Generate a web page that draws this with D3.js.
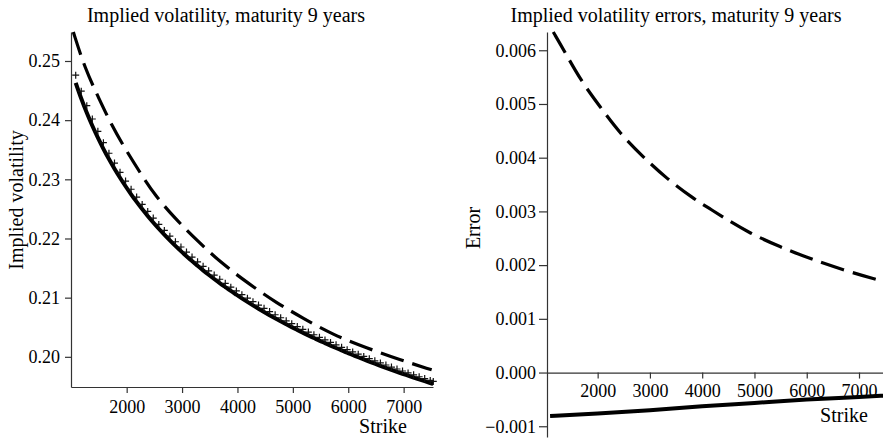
<!DOCTYPE html>
<html><head><meta charset="utf-8">
<script src="https://cdn.jsdelivr.net/npm/d3@7"></script>
<style>
html,body{margin:0;padding:0;background:#fff;}
svg{display:block;}
svg text{font-family:"Liberation Serif","Times New Roman",serif;}
</style></head><body>
<svg id="chart" width="883" height="441"></svg>
<script>
// ---- data ----
const strikes = [1080,1180,1280,1380,1480,1580,1680,1780,1880,1980,2080,2180,2280,2380,2480,2580,2680,2780,2880,2980,3080,3180,3280,3380,3480,3580,3680,3780,3880,3980,4080,4180,4280,4380,4480,4580,4680,4780,4880,4980,5080,5180,5280,5380,5480,5580,5680,5780,5880,5980,6080,6180,6280,6380,6480,6580,6680,6780,6880,6980,7080,7180,7280,7380,7480,7535];
const solidVol = [0.24630,0.24365,0.24125,0.23906,0.23704,0.23516,0.23342,0.23179,0.23027,0.22883,
0.22747,0.22619,0.22497,0.22381,0.22271,0.22165,0.22065,0.21968,0.21875,0.21786,
0.21701,0.21618,0.21539,0.21462,0.21388,0.21316,0.21246,0.21179,0.21113,0.21050,
0.20988,0.20928,0.20870,0.20813,0.20758,0.20704,0.20652,0.20601,0.20551,0.20502,
0.20455,0.20408,0.20362,0.20318,0.20274,0.20232,0.20190,0.20149,0.20109,0.20069,
0.20031,0.19993,0.19956,0.19920,0.19884,0.19849,0.19814,0.19780,0.19747,0.19714,
0.19682,0.19650,0.19619,0.19588,0.19558,0.19542];
const plusVol = [0.24760,0.24490,0.24245,0.24020,0.23812,0.23620,0.23441,0.23274,0.23118,0.22970,
0.22832,0.22700,0.22576,0.22458,0.22345,0.22237,0.22136,0.22039,0.21945,0.21856,
0.21770,0.21686,0.21606,0.21529,0.21454,0.21382,0.21311,0.21243,0.21178,0.21114,
0.21051,0.20991,0.20932,0.20875,0.20819,0.20764,0.20711,0.20660,0.20609,0.20560,
0.20512,0.20465,0.20418,0.20373,0.20329,0.20286,0.20243,0.20202,0.20161,0.20121,
0.20082,0.20044,0.20006,0.19969,0.19933,0.19897,0.19862,0.19827,0.19794,0.19760,
0.19728,0.19695,0.19663,0.19632,0.19601,0.19585];
const dashStrikes = [1037,1248,1488,1730,1970,2271,2511,2872,3264,3715,4197,4708,5190,5730,6332,6933,7506];
const dashVol = [0.2549,0.2487,0.2439,0.2391,0.2352,0.2307,0.2273,0.2234,0.2197,0.2158,0.2124,0.2091,0.2065,0.2037,0.2015,0.1995,0.1978];
const errDashStrikes = [1151,1355,1675,2045,2428,2874,3321,3830,4148,4403,4914,5488,6062,6700,7338,7460];
const errDash = [0.00634,0.00600,0.00544,0.00495,0.00445,0.00401,0.00361,0.00324,0.00305,0.00289,0.00259,0.00234,0.00212,0.00191,0.00173,0.00170];
const errSolidStrikes = [1090,2000,3000,4000,5000,6000,7000,7460];
const errSolid = [-0.00081,-0.000764,-0.000702,-0.000628,-0.000566,-0.000503,-0.000454,-0.00043];
const strikeTicks = [2000,3000,4000,5000,6000,7000];
const volTicks = [0.20,0.21,0.22,0.23,0.24,0.25];
const errTicks = [-0.001,0,0.001,0.002,0.003,0.004,0.005,0.006];
const titleLeft = "Implied volatility, maturity 9 years";
const titleRight = "Implied volatility errors, maturity 9 years";
const xLabel = "Strike";
const yLabelLeft = "Implied volatility";
const yLabelRight = "Error";

const FONT = '"Liberation Serif","Times New Roman",serif';
const svg = d3.select("#chart");
const AX = "#333";

function styleAxis(g){
  g.attr("font-family", FONT).attr("font-size", 18);
  g.selectAll(".domain").attr("stroke",AX).attr("stroke-width",1.2);
  g.selectAll(".tick line").attr("stroke",AX).attr("stroke-width",1.2);
  g.selectAll(".tick text").attr("fill","#000").attr("font-family", FONT).attr("font-size", 18);
}

// ---- left panel ----
const xL = d3.scaleLinear().domain([995,7530]).range([71,433]);
const yL = d3.scaleLinear().domain([0.1949,0.2549]).range([387,32]);

svg.append("g").attr("transform","translate(0,387)")
  .call(d3.axisBottom(xL).tickValues(strikeTicks).tickFormat(d3.format("d")).tickSize(6).tickSizeOuter(0).tickPadding(7))
  .call(styleAxis);
svg.append("g").attr("transform","translate(71,0)")
  .call(d3.axisLeft(yL).tickValues(volTicks).tickFormat(d3.format(".2f")).tickSize(6).tickSizeOuter(0).tickPadding(5))
  .call(styleAxis);

const lineL = d3.line().x(d=>xL(d[0])).y(d=>yL(d[1]));
svg.append("path").datum(dashStrikes.map((s,i)=>[s,dashVol[i]]))
  .attr("d",lineL.curve(d3.curveBasis)).attr("fill","none").attr("stroke","#000")
  .attr("stroke-width",3.2).attr("stroke-dasharray","24,9");
svg.append("path").datum(strikes.map((s,i)=>[s,solidVol[i]]))
  .attr("d",d3.line().x(d=>xL(d[0])).y(d=>yL(d[1])).curve(d3.curveMonotoneX))
  .attr("fill","none").attr("stroke","#000").attr("stroke-width",4);
svg.append("g").selectAll("path").data(strikes.map((s,i)=>[s,plusVol[i]])).join("path")
  .attr("transform",d=>`translate(${xL(d[0])},${yL(d[1])})`)
  .attr("d","M-3.5,0H3.5M0,-3.5V3.5").attr("stroke","#111").attr("stroke-width",1.2).attr("fill","none");

svg.append("text").attr("x",226).attr("y",22).attr("text-anchor","middle")
  .attr("font-size",20).text(titleLeft);
svg.append("text").attr("x",383).attr("y",433).attr("text-anchor","middle")
  .attr("font-size",20).text(xLabel);
svg.append("text").attr("transform","translate(23,200) rotate(-90)").attr("text-anchor","middle")
  .attr("font-size",20).text(yLabelLeft);

// ---- right panel ----
const xR = d3.scaleLinear().domain([1031,7459]).range([547,883]);
const yR = d3.scaleLinear().domain([-0.0012,0.00634]).range([437,32]);

svg.append("g").attr("transform",`translate(0,${yR(0)})`)
  .call(d3.axisBottom(xR).tickValues(strikeTicks).tickFormat(d3.format("d")).tickSize(6).tickSizeOuter(0).tickPadding(6))
  .call(styleAxis);
svg.append("g").attr("transform","translate(547,0)")
  .call(d3.axisLeft(yR).tickValues(errTicks).tickFormat(d3.format(".3f")).tickSize(8).tickSizeOuter(0).tickPadding(3))
  .call(styleAxis);

svg.append("clipPath").attr("id","clipR").append("rect").attr("x",547).attr("y",0).attr("width",336).attr("height",441);
const lineR = d3.line().x(d=>xR(d[0])).y(d=>yR(d[1]));
svg.append("path").datum(errDashStrikes.map((s,i)=>[s,errDash[i]]))
  .attr("clip-path","url(#clipR)")
  .attr("d",lineR.curve(d3.curveBasis)).attr("fill","none").attr("stroke","#000")
  .attr("stroke-width",3.2).attr("stroke-dasharray","24,9");
svg.append("path").datum(errSolidStrikes.map((s,i)=>[s,errSolid[i]]))
  .attr("clip-path","url(#clipR)")
  .attr("d",d3.line().x(d=>xR(d[0])).y(d=>yR(d[1])).curve(d3.curveMonotoneX))
  .attr("fill","none").attr("stroke","#000").attr("stroke-width",4);

svg.append("text").attr("x",676).attr("y",22).attr("text-anchor","middle")
  .attr("font-size",20).text(titleRight);
svg.append("text").attr("x",844).attr("y",422).attr("text-anchor","middle")
  .attr("font-size",20).text(xLabel);
svg.append("text").attr("transform","translate(480,228) rotate(-90)").attr("text-anchor","middle")
  .attr("font-size",20).text(yLabelRight);
</script>
</body></html>
